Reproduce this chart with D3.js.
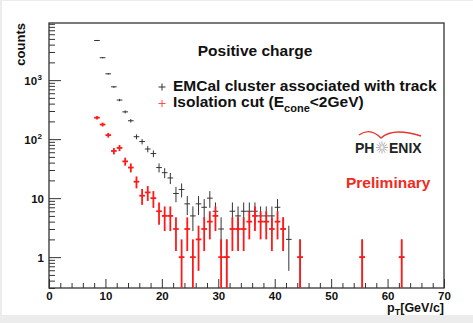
<!DOCTYPE html>
<html>
<head>
<meta charset="utf-8">
<script src="https://cdn.jsdelivr.net/npm/d3@7"></script>
<style>
  html, body { margin: 0; padding: 0; background: #ececec; }
  svg { display: block; }
</style>
</head>
<body>
<div id="chart"></div>
<script>
// bin centres (GeV/c) and counts
const trackCenters = [8.5, 9.5, 10.5, 11.5, 12.5, 13.5, 14.5, 15.5, 16.5, 17.5, 18.5, 19.5, 20.5, 21.5,
  22.5, 23.5, 24.5, 25.5, 26.5, 27.5, 28.5, 29.5, 30.5, 31.5, 32.5, 33.5, 34.5, 35.5, 36.5, 37.5,
  38.5, 39.5, 40.5, 41.5, 42.5, 44.5, 55.5, 62.5];
const trackCounts = [4700, 2400, 1280, 770, 460, 290, 205, 110, 91, 68, 57, 33, 27, 22,
  12, 14, 8, 5, 8, 7, 10, 6, 3, 1, 6, 5, 6, 6, 6, 5,
  5, 5, 7, 3, 2, 1, 1, 1];

const isoCenters = [8.5, 9.5, 10.5, 11.5, 12.5, 13.5, 14.5, 15.5, 16.5, 17.5, 18.5, 19.5, 20.5, 21.5,
  22.5, 23.5, 24.5, 25.5, 26.5, 27.5, 28.5, 29.5, 30.5, 31.5, 32.5, 33.5, 34.5, 35.5, 36.5, 37.5,
  38.5, 39.5, 40.5, 41.5, 44.5, 55.5, 62.5];
const isoCounts = [231, 177, 117, 63, 71, 42, 33, 19, 11, 12.5, 10, 6, 5, 5,
  3, 1, 3, 1, 2, 3, 4, 5, 1, 1, 3, 3, 3, 4, 5, 4,
  4, 3, 4, 3, 1, 1, 1];

const xTicks = [0, 10, 20, 30, 40, 50, 60, 70];
const yTicks = [1, 10, 100, 1000];

const W = 473, H = 323;
const frame = { left: 49, right: 444, top: 23, bottom: 288 };
const FONT = 'Liberation Sans, Arial, Helvetica, sans-serif';

const svg = d3.select('#chart').append('svg')
  .attr('width', W).attr('height', H);

// canvas (light grey edge like the original screenshot)
svg.append('rect').attr('x', 2).attr('y', 1).attr('width', W - 2).attr('height', 314).attr('fill', '#fff');

const x = d3.scaleLinear().domain([0, 70]).range([frame.left, frame.right]);
const y = d3.scaleLog().domain([0.3, 9300]).range([frame.bottom, frame.top]);

// minor ticks
const xMinor = d3.range(0, 71, 2).filter(v => v % 10 !== 0);
const yMinor = [];
[0.1, 1, 10, 100, 1000].forEach(d => { for (let k = 2; k <= 9; k++) { const v = d * k; if (v > 0.3 && v < 9300) yMinor.push(v); } });

const axisColor = '#333';

svg.append('g').attr('transform', `translate(0,${frame.bottom})`)
  .call(d3.axisBottom(x).tickValues(xMinor).tickSize(-5).tickFormat(''))
  .call(g => g.select('.domain').remove())
  .call(g => g.selectAll('.tick line').attr('stroke', axisColor));

svg.append('g').attr('transform', `translate(0,${frame.bottom})`)
  .call(d3.axisBottom(x).tickValues(xTicks).tickSize(-9).tickPadding(4).tickFormat(d3.format('d')))
  .call(g => g.select('.domain').remove())
  .call(g => g.selectAll('.tick line').attr('stroke', axisColor))
  .call(g => g.selectAll('.tick text').attr('fill', '#111').attr('font-size', '11.5px')
    .attr('font-weight', 'bold').attr('font-family', FONT));

svg.append('g').attr('transform', `translate(${frame.left},0)`)
  .call(d3.axisLeft(y).tickValues(yMinor).tickSize(-6).tickFormat(''))
  .call(g => g.select('.domain').remove())
  .call(g => g.selectAll('.tick line').attr('stroke', axisColor));

const yAxis = svg.append('g').attr('transform', `translate(${frame.left},0)`)
  .call(d3.axisLeft(y).tickValues(yTicks).tickSize(-12).tickPadding(5).tickFormat(''))
  .call(g => g.select('.domain').remove())
  .call(g => g.selectAll('.tick line').attr('stroke', axisColor));

yAxis.selectAll('.tick').each(function (d) {
  const exp = Math.round(Math.log10(d));
  const t = d3.select(this).select('text')
    .attr('fill', '#111').attr('font-size', '11.5px').attr('font-weight', 'bold')
    .attr('font-family', FONT).attr('dy', '0.38em');
  if (exp <= 1) {
    t.text(d);
  } else {
    t.attr('x', -7);
    t.append('tspan').text('10');
    t.append('tspan').attr('font-size', '8px').attr('dy', '-0.6em').attr('dx', '0.5').text(exp);
  }
});

// frame
svg.append('rect')
  .attr('x', frame.left).attr('y', frame.top)
  .attr('width', frame.right - frame.left).attr('height', frame.bottom - frame.top)
  .attr('fill', 'none').attr('stroke', axisColor).attr('stroke-width', 1.3);

// axis titles
svg.append('text')
  .attr('transform', `translate(25,${frame.top}) rotate(-90)`)
  .attr('text-anchor', 'end')
  .attr('fill', '#111').attr('font-size', '13px').attr('font-weight', 'bold').attr('font-family', FONT)
  .text('counts');

const xt = svg.append('text')
  .attr('x', frame.right).attr('y', 312)
  .attr('text-anchor', 'end')
  .attr('fill', '#111').attr('font-size', '12.5px').attr('font-weight', 'bold').attr('font-family', FONT);
xt.append('tspan').text('p');
xt.append('tspan').attr('font-size', '9px').attr('dy', '3').text('T');
xt.append('tspan').attr('dy', '-3').text('[GeV/c]');

// data with Poisson error bars
const plotArea = svg.append('g');
plotArea.append('clipPath').attr('id', 'clip')
  .append('rect').attr('x', frame.left).attr('y', frame.top)
  .attr('width', frame.right - frame.left).attr('height', frame.bottom - frame.top);

function drawSeries(centers, counts, color, width) {
  const pts = centers.map((c, i) => ({ c, v: counts[i], e: Math.sqrt(counts[i]) }));
  const g = plotArea.append('g').attr('clip-path', 'url(#clip)')
    .attr('stroke', color).attr('stroke-width', width);
  g.selectAll('.eh').data(pts).join('line')
    .attr('x1', d => x(d.c - 0.5)).attr('x2', d => x(d.c + 0.5))
    .attr('y1', d => y(d.v)).attr('y2', d => y(d.v));
  g.selectAll('.ev').data(pts).join('line')
    .attr('x1', d => x(d.c)).attr('x2', d => x(d.c))
    .attr('y1', d => y(d.v + d.e))
    .attr('y2', d => (d.v - d.e > 0.3 ? y(d.v - d.e) : frame.bottom));
}

drawSeries(trackCenters, trackCounts, '#333', 1);
drawSeries(isoCenters, isoCounts, '#ff1a1a', 1.8);

// header text and legend
const txt = (xx, yy, s, size, color, anchor) => svg.append('text')
  .attr('x', xx).attr('y', yy).attr('text-anchor', anchor || 'start')
  .attr('fill', color || '#111').attr('font-size', size).attr('font-weight', 'bold')
  .attr('font-family', FONT).text(s);

txt(255, 56, 'Positive charge', '15.5px', '#111', 'middle');

const legend = [
  { label: 'EMCal cluster associated with track', color: '#333', y: 87 },
  { label: 'Isolation cut', color: '#ff4d4d', y: 103.5 }
];
legend.forEach(l => {
  svg.append('line').attr('x1', 158.5).attr('x2', 165.5).attr('y1', l.y).attr('y2', l.y)
    .attr('stroke', l.color).attr('stroke-width', 1);
  svg.append('line').attr('x1', 162).attr('x2', 162).attr('y1', l.y - 3.5).attr('y2', l.y + 3.5)
    .attr('stroke', l.color).attr('stroke-width', 1);
});
txt(173, 90.5, 'EMCal cluster associated with track', '15.5px');
const iso = txt(173, 106.5, 'Isolation cut (E', '15.5px');
iso.append('tspan').attr('font-size', '11px').attr('dy', '5').text('cone');
iso.append('tspan').attr('dy', '-5').text('<2GeV)');

// PHENIX logo
const logo = svg.append('g');
logo.append('path')
  .attr('d', 'M359,135 Q370,127 381,138 Q393,127 421,136')
  .attr('fill', 'none').attr('stroke', '#e8332a').attr('stroke-width', 1.4);
logo.append('text').attr('x', 355).attr('y', 153).attr('fill', '#222')
  .attr('font-size', '14px').attr('font-weight', 'bold').attr('font-family', FONT).text('PH');
logo.append('text').attr('x', 389).attr('y', 153).attr('fill', '#222')
  .attr('font-size', '14px').attr('font-weight', 'bold').attr('font-family', FONT).text('ENIX');
d3.range(12).forEach(i => {
  const a = i * Math.PI / 6;
  logo.append('line')
    .attr('x1', 382 + Math.cos(a) * 1.5).attr('y1', 147.5 + Math.sin(a) * 1.5)
    .attr('x2', 382 + Math.cos(a) * 6).attr('y2', 147.5 + Math.sin(a) * 6)
    .attr('stroke', '#aaa').attr('stroke-width', 0.9);
});

txt(346, 188, 'Preliminary', '15.5px', '#f22a1e');
</script>
</body>
</html>
